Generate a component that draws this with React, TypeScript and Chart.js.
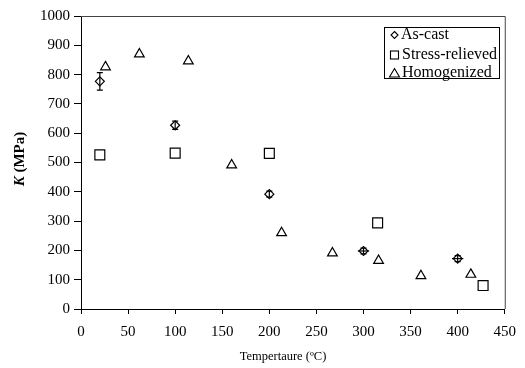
import React, { useEffect, useRef } from "react";
import { Chart, registerables } from "chart.js";

Chart.register(...registerables);

// ---- Data ----
const asCastX = [20, 100, 200, 300, 400];
const asCastY = [777, 627, 392, 198, 172];
const asCastYErr = [30, 14, 10, 10, 10];
const asCastXErr = [0, 0, 0, 6, 6];

const stressX = [20, 100, 200, 315, 427];
const stressY = [526, 532, 531, 294, 80];

const homX = [26, 62, 114, 160, 213, 267, 316, 361, 414];
const homY = [826, 870, 846, 491, 260, 191, 165, 113, 118];

const xTicks = [0, 50, 100, 150, 200, 250, 300, 350, 400, 450];
const yTicks = [0, 100, 200, 300, 400, 500, 600, 700, 800, 900, 1000];

const seriesNames = ["As-cast", "Stress-relieved", "Homogenized"];
const xTitle = "Tempertaure (ºC)";
const yTitleItalic = "K";
const yTitleRest = " (MPa)";

const FONT = "'Liberation Serif', 'Times New Roman', serif";

const toPts = (xs: number[], ys: number[]) => xs.map((x, i) => ({ x, y: ys[i] }));

const extrasPlugin = {
  id: "extras",
  afterDatasetsDraw(chart: any) {
    const ctx = chart.ctx;
    const xs = chart.scales.x;
    const ys = chart.scales.y;
    ctx.save();
    ctx.strokeStyle = "#000";
    ctx.lineWidth = 1.2;
    asCastX.forEach((xv, i) => {
      const px = xs.getPixelForValue(xv);
      const ey = asCastYErr[i];
      if (ey > 0) {
        const y1 = ys.getPixelForValue(asCastY[i] - ey);
        const y2 = ys.getPixelForValue(asCastY[i] + ey);
        ctx.beginPath();
        ctx.moveTo(px, y1);
        ctx.lineTo(px, y2);
        ctx.moveTo(px - 3, y1);
        ctx.lineTo(px + 3, y1);
        ctx.moveTo(px - 3, y2);
        ctx.lineTo(px + 3, y2);
        ctx.stroke();
      }
      const ex = asCastXErr[i];
      if (ex > 0) {
        const py = ys.getPixelForValue(asCastY[i]);
        const x1 = xs.getPixelForValue(xv - ex);
        const x2 = xs.getPixelForValue(xv + ex);
        ctx.beginPath();
        ctx.moveTo(x1, py);
        ctx.lineTo(x2, py);
        ctx.stroke();
      }
    });
    ctx.restore();
  },
  afterDraw(chart: any) {
    const ctx = chart.ctx;
    const a = chart.chartArea;
    ctx.save();
    ctx.strokeStyle = "#444";
    ctx.lineWidth = 1;
    ctx.beginPath();
    ctx.moveTo(a.left, a.top + 0.5);
    ctx.lineTo(a.right + 0.5, a.top + 0.5);
    ctx.lineTo(a.right + 0.5, a.bottom);
    ctx.stroke();

    // y title
    ctx.fillStyle = "#000";
    ctx.textBaseline = "middle";
    ctx.save();
    ctx.translate(20, 159);
    ctx.rotate(-Math.PI / 2);
    ctx.font = `italic bold 15px ${FONT}`;
    const w1 = ctx.measureText(yTitleItalic).width;
    ctx.font = `bold 15px ${FONT}`;
    const w2 = ctx.measureText(yTitleRest).width;
    const start = -(w1 + w2) / 2;
    ctx.textAlign = "left";
    ctx.font = `italic bold 15px ${FONT}`;
    ctx.fillText(yTitleItalic, start, 0);
    ctx.font = `bold 15px ${FONT}`;
    ctx.fillText(yTitleRest, start + w1, 0);
    ctx.restore();

    // x title
    ctx.font = `12.5px ${FONT}`;
    ctx.textAlign = "center";
    ctx.fillText(xTitle, 283, 357);

    // legend
    const bx = 384.5, by = 27.5, bw = 115, bh = 51;
    ctx.strokeStyle = "#000";
    ctx.lineWidth = 1;
    ctx.fillStyle = "#fff";
    ctx.fillRect(bx, by, bw, bh);
    ctx.strokeRect(bx, by, bw, bh);
    const rows = [35, 55, 73];
    const mx = 394.5;
    ctx.lineWidth = 1.1;
    ctx.strokeStyle = "#000";
    ctx.beginPath();
    ctx.moveTo(mx, rows[0] - 3.5);
    ctx.lineTo(mx + 3.5, rows[0]);
    ctx.lineTo(mx, rows[0] + 3.5);
    ctx.lineTo(mx - 3.5, rows[0]);
    ctx.closePath();
    ctx.stroke();
    ctx.strokeRect(mx - 4, rows[1] - 4, 8, 8);
    ctx.beginPath();
    ctx.moveTo(mx, rows[2] - 4.5);
    ctx.lineTo(mx + 5, rows[2] + 4);
    ctx.lineTo(mx - 5, rows[2] + 4);
    ctx.closePath();
    ctx.stroke();
    ctx.fillStyle = "#000";
    ctx.font = `16px ${FONT}`;
    ctx.textAlign = "left";
    ctx.fillText(seriesNames[0], 401, rows[0]);
    ctx.fillText(seriesNames[1], 402, rows[1]);
    ctx.fillText(seriesNames[2], 402, rows[2]);
    ctx.restore();
  },
};

export default function App() {
  const ref = useRef<HTMLCanvasElement | null>(null);
  useEffect(() => {
    if (!ref.current) return;
    const common = {
      showLine: false,
      borderColor: "#000",
      backgroundColor: "rgba(255,255,255,0)",
      borderWidth: 1.2,
    };
    const chart = new Chart(ref.current, {
      type: "scatter",
      data: {
        datasets: [
          {
            ...common,
            label: seriesNames[0],
            data: toPts(asCastX, asCastY),
            pointStyle: "rectRot",
            pointRadius: 4.5,
          },
          {
            ...common,
            label: seriesNames[1],
            data: toPts(stressX, stressY),
            pointStyle: "rect",
            pointRadius: 7,
          },
          {
            ...common,
            label: seriesNames[2],
            data: toPts(homX, homY),
            pointStyle: "triangle",
            pointRadius: 5.6,
          },
        ],
      },
      options: {
        animation: false,
        responsive: true,
        maintainAspectRatio: false,
        layout: { padding: { top: 16, right: 14, left: 0, bottom: 0 } },
        plugins: {
          legend: { display: false },
          tooltip: { enabled: false },
        },
        scales: {
          x: {
            type: "linear",
            min: 0,
            max: 450,
            afterBuildTicks: (s: any) => {
              s.ticks = xTicks.map((v) => ({ value: v }));
            },
            afterFit: (s: any) => {
              s.height = 59;
            },
            ticks: {
              color: "#000",
              font: { family: FONT, size: 15 },
              padding: 9,
              maxRotation: 0,
              callback: (v: any) => String(v),
            },
            grid: { drawOnChartArea: false, color: "#000", tickLength: 5 },
            border: { color: "#000", width: 1 },
          },
          y: {
            type: "linear",
            min: 0,
            max: 1000,
            afterBuildTicks: (s: any) => {
              s.ticks = yTicks.map((v) => ({ value: v }));
            },
            afterFit: (s: any) => {
              s.width = 81;
            },
            ticks: {
              color: "#000",
              font: { family: FONT, size: 15 },
              padding: 4,
              callback: (v: any) => String(v),
            },
            grid: { drawOnChartArea: false, color: "#000", tickLength: 7 },
            border: { color: "#000", width: 1 },
          },
        },
      },
      plugins: [extrasPlugin],
    } as any);
    return () => chart.destroy();
  }, []);
  return (
    <div style={{ position: "absolute", left: 0, top: 0, width: 525, height: 368, background: "#fff" }}>
      <canvas ref={ref} />
    </div>
  );
}
